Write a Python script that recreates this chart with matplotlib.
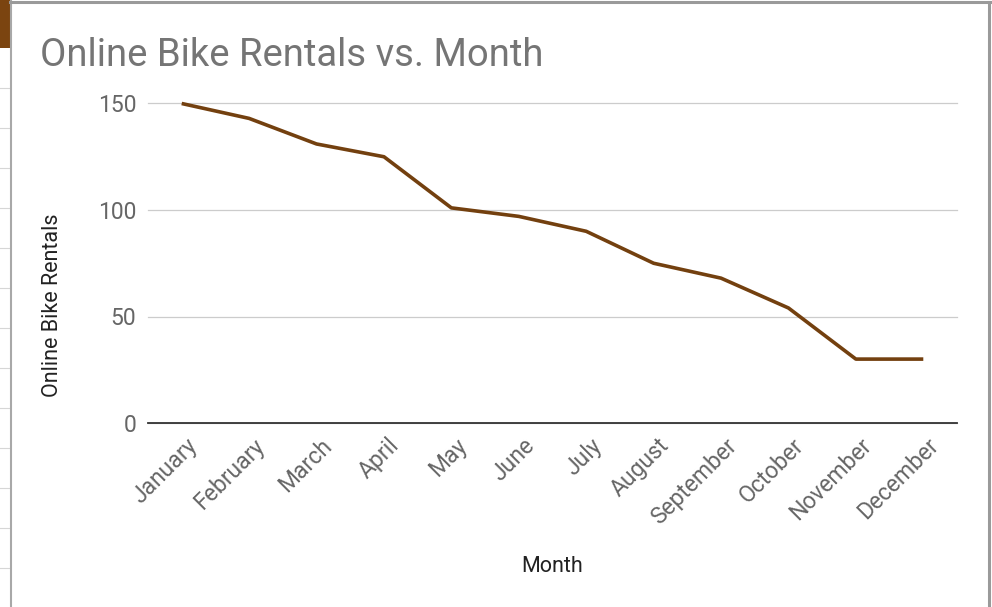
import matplotlib.pyplot as plt
import matplotlib.transforms as mtransforms
from matplotlib.patches import Rectangle
from matplotlib.lines import Line2D

months = ["January", "February", "March", "April", "May", "June", "July",
          "August", "September", "October", "November", "December"]
rentals = [150, 143, 131, 125, 101, 97, 90, 75, 68, 54, 30, 30]
y_ticks = [0, 50, 100, 150]

W, H = 992, 607
plt.rcParams['font.family'] = ['Roboto', 'DejaVu Sans']

fig = plt.figure(figsize=(W / 100, H / 100), dpi=100)

def fx(px):
    return px / W

def fy(py):
    return 1 - py / H

# screenshot frame bits (spreadsheet edge)
fig.add_artist(Rectangle((0, fy(48)), fx(10), 48 / H, color="#7b4410",
                         transform=fig.transFigure, lw=0))
for py in range(88, 607, 40):
    fig.add_artist(Line2D([0, fx(10)], [fy(py), fy(py)], color="#d6d6d6", lw=0.8,
                          transform=fig.transFigure))
fig.add_artist(Line2D([fx(10.5), fx(10.5)], [0, 1], color="#a8a8a8", lw=1.5,
                      transform=fig.transFigure))
fig.add_artist(Line2D([fx(10), fx(990)], [fy(2), fy(2)], color="#9a9a9a", lw=2.2,
                      transform=fig.transFigure))
fig.add_artist(Line2D([fx(988.5), fx(988.5)], [0, fy(2)], color="#9a9a9a", lw=2.2,
                      transform=fig.transFigure))

ax = fig.add_axes([fx(148), fy(423), fx(957) - fx(148), (423 - 103.5) / H])
x = range(len(months))
ax.plot(x, rentals, color="#73400f", lw=2.6, solid_capstyle="butt", zorder=3,
        clip_on=False)

ax.set_xlim(-0.5, len(months) - 0.5)
ax.set_ylim(0, 150)
ax.set_yticks(y_ticks)
ax.grid(axis="y", color="#cccccc", lw=0.9)
for gl in ax.get_ygridlines():
    gl.set_clip_on(False)
ax.axhline(0, color="#333333", lw=1.3, zorder=2, clip_on=False)
for s in ax.spines.values():
    s.set_visible(False)
ax.tick_params(axis="y", length=0, pad=8.5, labelsize=16.5, labelcolor="#666666")
ax.set_xticks(list(x))
ax.set_xticklabels(months, rotation=45, ha="right", rotation_mode="anchor",
                   fontsize=16.5, color="#666666")
ax.tick_params(axis="x", length=0, pad=8)
shift = mtransforms.ScaledTranslation(4 / 100, 0, fig.dpi_scale_trans)
for lab in ax.get_xticklabels():
    lab.set_transform(lab.get_transform() + shift)
ax.set_axisbelow(True)

fig.text(fx(40), fy(55), "Online Bike Rentals vs. Month", fontsize=27.5,
         color="#757575", va="center", ha="left")
fig.text(fx(53), fy(305), "Online Bike Rentals", fontsize=15.5, color="#222222",
         rotation=90, va="center", ha="center")
fig.text(fx(552), fy(566), "Month", fontsize=15.5, color="#222222",
         va="center", ha="center")

fig.savefig("out.png", dpi=100)
